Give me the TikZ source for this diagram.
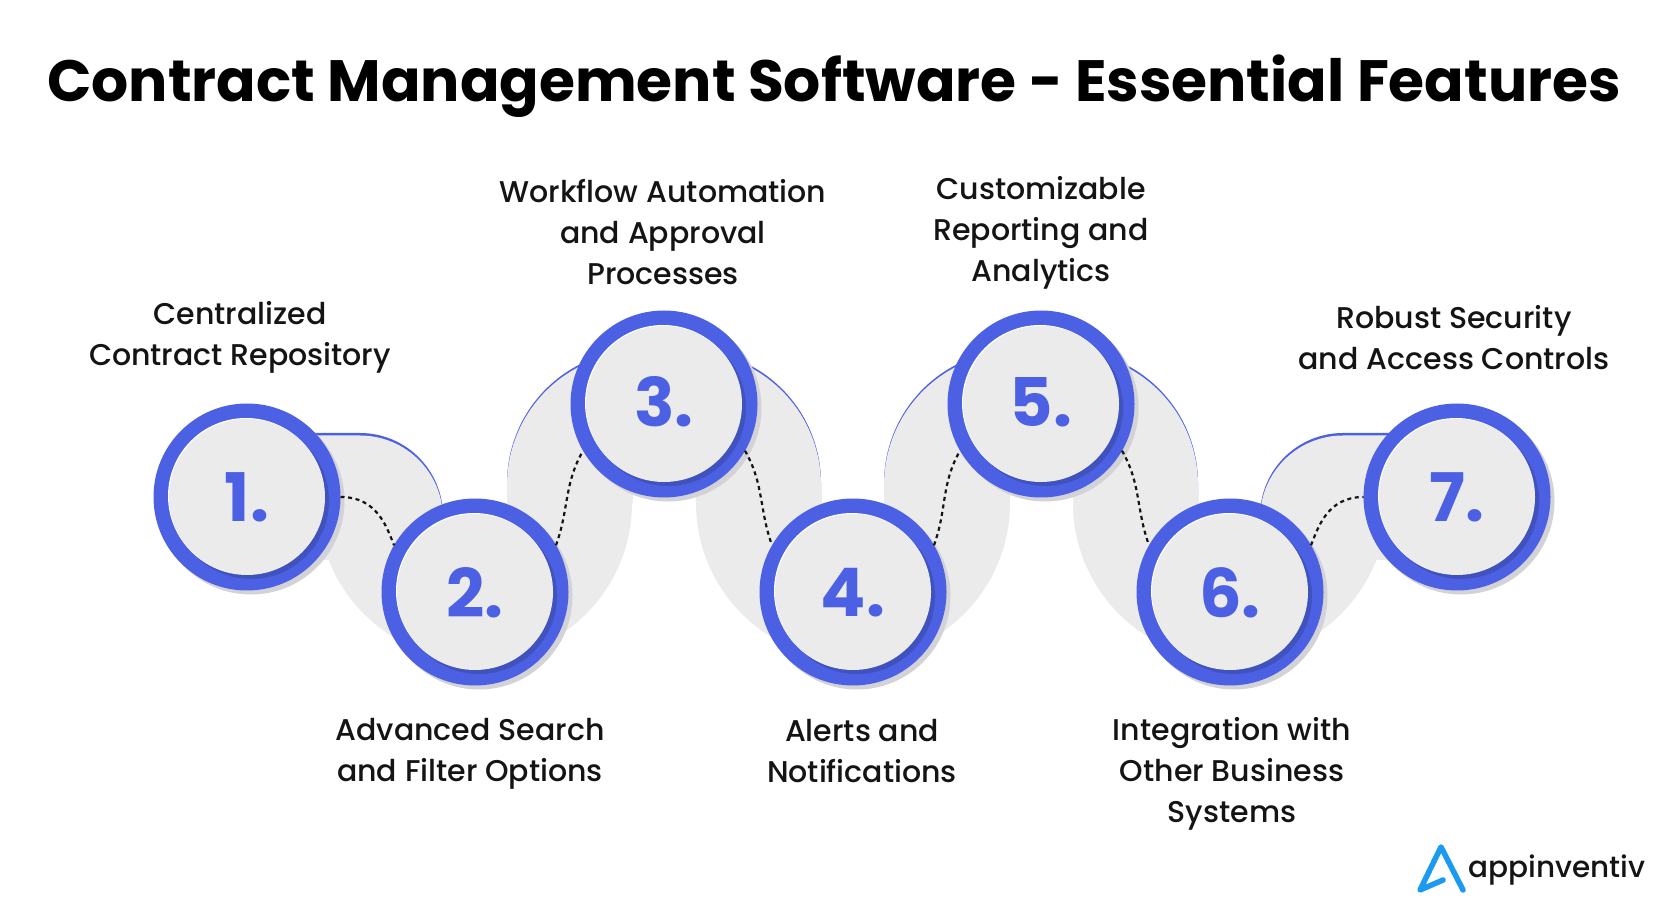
\documentclass[tikz,border=0pt]{standalone}
\usepackage{fontspec}
\setmainfont{Poppins}
\newfontfamily\labelfont{Poppins Medium}
\definecolor{ringblue}{RGB}{75,96,226}
\definecolor{darkblue}{RGB}{63,82,190}
\definecolor{facegrey}{RGB}{235,235,236}
\definecolor{shadegrey}{RGB}{210,210,215}
\definecolor{logoblue}{RGB}{26,154,240}
\definecolor{inkdark}{RGB}{20,20,20}
\tikzset{
  ringdisc/.style={circle, fill=ringblue, minimum size=187pt, inner sep=0pt, outer sep=0pt},
  numlabel/.style={font=\fontsize{67}{67}\selectfont\bfseries, text=ringblue, inner sep=0pt},
  steplabel/.style={font=\labelfont\fontsize{30}{41}\selectfont, text=inkdark, align=center, inner sep=0pt},
  dashlink/.style={draw=inkdark, line width=2.2pt, dash pattern=on 4pt off 3.6pt},
}
\begin{document}
\begin{tikzpicture}[x=1pt,y=1pt]
\useasboundingbox (0,0) rectangle (1667,919);
\node[font=\fontsize{58.3}{58}\selectfont\bfseries, text=black, inner sep=0pt] (title) at (834,833) {Contract Management Software - Essential Features};
% grey band
\foreach \cx in {475,853,1230}{
  \fill[facegrey] (\cx-157,416) arc [start angle=180, end angle=360, radius=157] -- cycle;
}
\foreach \cx/\dy/\col in {664/0/ringblue, 664/2/facegrey, 1041/0/ringblue, 1041/2/facegrey}{
  \fill[\col] (\cx-157,416-\dy) -- (\cx-157,436-\dy) arc [start angle=180, end angle=110, radius=133] -- (\cx+69.5,561-\dy) arc [start angle=70, end angle=0, radius=133] -- (\cx+157,416-\dy) -- (\cx+32,416-\dy) -- (\cx+32,430-\dy) -- (\cx-32,430-\dy) -- (\cx-32,416-\dy) -- cycle;
}
\fill[ringblue] (300,359) -- (300,486) -- (360,486) arc [start angle=90, end angle=0, radius=83] -- (443,359) -- cycle;
\fill[facegrey] (300,359) -- (300,483.5) -- (360,483.5) arc [start angle=90, end angle=0, radius=83] -- (443,359) -- cycle;
\fill[ringblue] (1400,359) -- (1400,486) -- (1343,486) arc [start angle=90, end angle=180, radius=83] -- (1260,359) -- cycle;
\fill[facegrey] (1400,359) -- (1400,483.5) -- (1343,483.5) arc [start angle=90, end angle=180, radius=83] -- (1260,359) -- cycle;
% circles
\foreach \num/\cx/\cy/\ny in {1/247/422/422, 2/475/327/326, 3/664/515/517, 4/853/327/326, 5/1041/515/517, 6/1230/327/326, 7/1457/422/422}{
  \fill[shadegrey] (\cx+4,\cy-4) circle (93.5);
  \node[ringdisc] (ring\num) at (\cx,\cy) {};
  \fill[darkblue] (\cx+4,\cy-4) circle (78);
  \fill[white] (\cx-1,\cy+1) circle (78);
  \fill[facegrey] (\cx,\cy) circle (78);
  \node[numlabel] (num\num) at (\cx,\ny) {\num.};
}
% links
\draw[dashlink] (ring1.east) to[out=0, in=112, out looseness=1.3, in looseness=0.7] (ring2.150);
\draw[dashlink] (ring2.30) to[out=70, in=240] (ring3.210);
\draw[dashlink] (ring3.330) to[out=-60, in=110] (ring4.150);
\draw[dashlink] (ring4.30) to[out=70, in=240] (ring5.210);
\draw[dashlink] (ring5.330) to[out=-60, in=110] (ring6.150);
\draw[dashlink] (ring6.30) to[out=68, in=180, out looseness=0.7, in looseness=1.3] (ring7.west);
% labels
\node[steplabel] (step1) at (240,582) {Centralized\\Contract Repository};
\node[steplabel] (step2) at (470,165) {Advanced Search\\and Filter Options};
\node[steplabel] (step3) at (663,687) {Workflow Automation\\and Approval\\Processes};
\node[steplabel] (step4) at (862,168) {Alerts and\\Notifications};
\node[steplabel] (step5) at (1041,686) {Customizable\\Reporting and\\Analytics};
\node[steplabel] (step6) at (1232,145) {Integration with\\Other Business\\Systems};
\node[steplabel] (step7) at (1454,581) {Robust Security\\and Access Controls};
% logo
\draw[logoblue, line width=5.5pt, line cap=round, line join=round] (1463,29) -- (1441,72) -- (1420,29) -- (1443,39);
\node[font=\labelfont\fontsize{29.5}{30}\selectfont, text=inkdark, anchor=base west, inner sep=0pt] (logotext) at (1468,42) {appinventiv};
\end{tikzpicture}
\end{document}
